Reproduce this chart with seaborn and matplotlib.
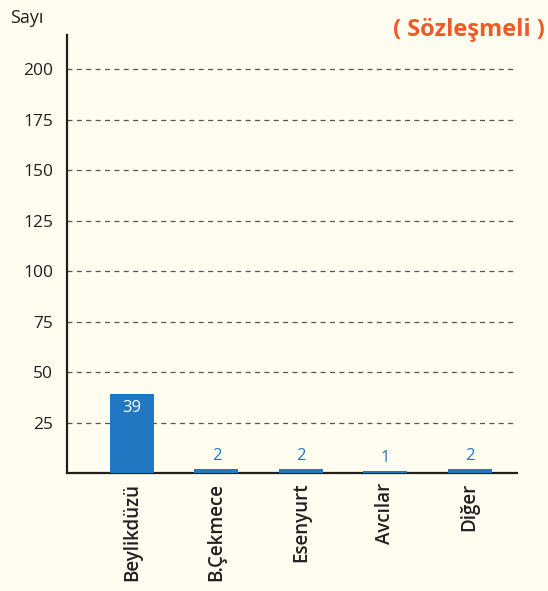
import matplotlib
matplotlib.use("Agg")
import matplotlib.pyplot as plt
import seaborn as sns
import pandas as pd

categories = ["Beylikdüzü", "B.Çekmece", "Esenyurt", "Avcılar", "Diğer"]
values = [39, 2, 2, 1, 2]
yticks = [25, 50, 75, 100, 125, 150, 175, 200]

sns.set_theme(style="white")
plt.rcParams['font.family'] = ['Open Sans', 'DejaVu Sans']

bg = "#fffdf0"
bar_color = "#1f78c1"
txt = "#231f20"

df = pd.DataFrame({"cat": categories, "val": values})

fig = plt.figure(figsize=(5.48, 5.91), dpi=100, facecolor=bg)
ax = fig.add_axes([67/548, 1-473/591, 450/548, 438/591])
ax.set_facecolor(bg)

sns.barplot(data=df, x="cat", y="val", color=bar_color, width=0.52,
            saturation=1, linewidth=0, edgecolor=bar_color, ax=ax, zorder=3)

ax.set_xlim(-0.77, 4.56)
ax.set_ylim(0, 217)
ax.set_yticks(yticks)
ax.set_yticklabels([str(t) for t in yticks], fontsize=12.5, color=txt, fontweight=500)
ax.set_xticks(range(len(categories)))
ax.set_xticklabels(categories, rotation=90, fontsize=13.5, color=txt, fontweight=600)
ax.tick_params(axis='both', length=0, pad=7)
ax.tick_params(axis='y', pad=10)
ax.set_xlabel("")
ax.set_ylabel("")

for t in yticks:
    ax.axhline(t, color="#555555", linestyle=(0, (4, 3.5)), linewidth=0.9, zorder=1)

for s in ["top", "right"]:
    ax.spines[s].set_visible(False)
for s in ["left", "bottom"]:
    ax.spines[s].set_color(txt)
    ax.spines[s].set_linewidth(1.6)

for i, v in enumerate(values):
    if v > 10:
        ax.text(i, v - 3, str(v), ha="center", va="top", color="white", fontsize=12, zorder=4)
    else:
        ax.text(i, v + 2.5, str(v), ha="center", va="bottom", color=bar_color, fontsize=12, zorder=4)

fig.text(10/548, 1-18/591, "Sayı", ha="left", va="center", fontsize=13, color=txt)
fig.text(545/548, 1-30/591, "( Sözleşmeli )", ha="right", va="center", fontsize=17,
         color="#f05a28", fontweight="bold")

fig.savefig("out.png", dpi=100, facecolor=bg)
